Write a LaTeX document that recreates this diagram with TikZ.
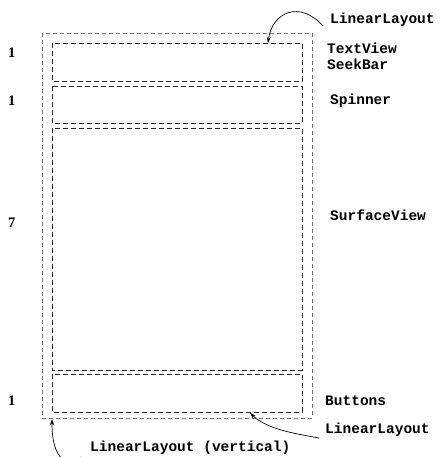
\documentclass[tikz,border=0pt]{standalone}
\usepackage{fontspec}
\setmainfont{Liberation Serif}
\setmonofont{Liberation Mono}
\usetikzlibrary{arrows.meta}
\begin{document}
\begin{tikzpicture}[x=1pt,y=-1pt,
  outerbox/.style={draw=black!55,line width=0.9pt,dash pattern=on 4pt off 3pt},
  innerbox/.style={draw=black!85,line width=0.8pt,dash pattern=on 5pt off 3pt},
  lbl/.style={anchor=base west,inner sep=0pt,font=\ttfamily\bfseries\fontsize{14.5}{16}\selectfont},
  num/.style={anchor=base west,inner sep=0pt,font=\rmfamily\bfseries\fontsize{14.5}{16}\selectfont},
  callout/.style={line width=0.7pt,-{Stealth[length=6pt,width=4pt]}}]
\useasboundingbox (0,0) rectangle (439,457);
% boxes
\coordinate (otl) at (42,33);
\coordinate (obr) at (312,418);
\draw[outerbox] (otl) rectangle (obr);
\draw[innerbox] (52,43) rectangle (302,81);
\draw[innerbox] (52,86) rectangle (302,123);
\draw[innerbox] (52,128) rectangle (302,370);
\draw[innerbox] (52,374) rectangle (302,412);
\coordinate (tipA) at (268,43);
\coordinate (tipB) at (250,413);
\coordinate (tipC) at (52,419);
% labels
\node[lbl] (ll1) at (330,24) {LinearLayout};
\node[lbl] (tv) at (327,54) {TextView};
\node[lbl] (sb) at (327,70) {SeekBar};
\node[lbl] (sp) at (330,105) {Spinner};
\node[lbl] (sv) at (330,220) {SurfaceView};
\node[lbl] (bt) at (325,405) {Buttons};
\node[lbl] (ll2) at (325,433) {LinearLayout};
\node[lbl] (ll3) at (90,451) {LinearLayout (vertical)};
% numbers
\node[num] (n1) at (8,58) {1};
\node[num] (n2) at (8,106) {1};
\node[num] (n3) at (8,227) {7};
\node[num] (n4) at (8,405) {1};
% callouts
\draw[callout] ([xshift=-7pt,yshift=-2pt]ll1.base west) .. controls (300,0) and (272,12) .. (tipA);
\draw[callout] ([xshift=-6pt,yshift=-5pt]ll2.base west) .. controls (298,434) and (268,430) .. (tipB);
\draw[callout] ([xshift=-9pt,yshift=-6pt]ll3.base west) .. controls (68,466) and (52,462) .. (tipC);
\end{tikzpicture}
\end{document}
